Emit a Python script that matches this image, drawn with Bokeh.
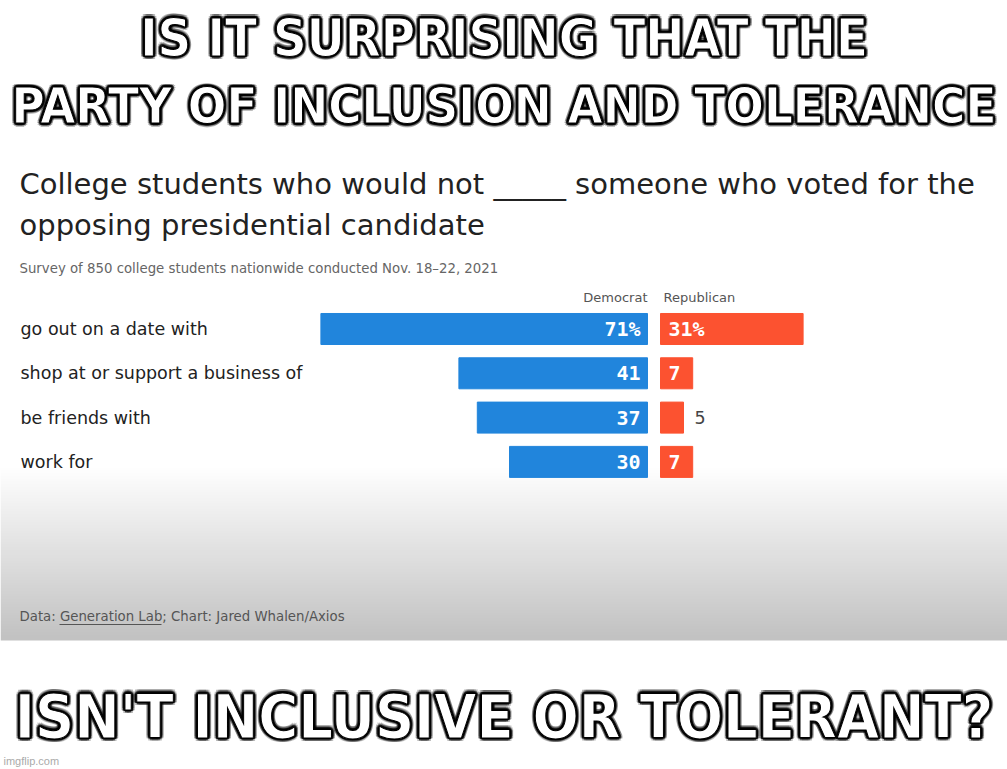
import numpy as np
from bokeh.plotting import figure
from bokeh.models import Range1d, ColumnDataSource
from bokeh.core.properties import value
from bokeh.embed import file_html
from bokeh.resources import INLINE

# ---- data ----
categories = ["go out on a date with", "shop at or support a business of",
              "be friends with", "work for"]
democrat = [71, 41, 37, 30]
republican = [31, 7, 5, 7]
dem_labels = ["71%", "41", "37", "30"]
rep_labels = ["31%", "7", "5", "7"]

W, H = 1007, 769
p = figure(width=W, height=H, x_range=Range1d(0, W), y_range=Range1d(H, 0),
           output_backend="svg", toolbar_location=None, min_border=0,
           background_fill_color="white", border_fill_color="white")
p.outline_line_color = None
p.axis.visible = False
p.grid.visible = False

# value scale (percent) and row scale
PX_PER_PCT = 4.6
ZERO_PX = 653.5
p.extra_x_ranges = {"pct": Range1d(-ZERO_PX / PX_PER_PCT, (W - ZERO_PX) / PX_PER_PCT)}
ROW0, ROWSTEP = 328.5, 44.3
p.extra_y_ranges = {"rows": Range1d((H - ROW0) / ROWSTEP, -ROW0 / ROWSTEP)}

# gradient background of the screenshot
g_top, g_bot = 465, 640
n = 64
shade = np.linspace(255, 194, n)
img = np.zeros((n, 1), dtype=np.uint32)
view = img.view(dtype=np.uint8).reshape((n, 1, 4))
view[:, 0, 0] = shade
view[:, 0, 1] = shade
view[:, 0, 2] = shade
view[:, 0, 3] = 255
p.image_rgba(image=[img], x=0, y=g_top, dw=W, dh=g_bot - g_top)

GAP = 6.5 / PX_PER_PCT
rows = list(range(len(categories)))
src = ColumnDataSource(dict(
    row=rows, cat=categories,
    dem=democrat, rep=republican,
    dem_left=[-GAP - v for v in democrat], dem_right=[-GAP] * len(rows),
    rep_left=[GAP] * len(rows), rep_right=[GAP + v for v in republican],
    dem_lab=dem_labels, rep_lab=rep_labels,
))

BLUE = "#2185dc"
RED = "#fc5230"
p.hbar(y="row", left="dem_left", right="dem_right", height=0.70, source=src,
       color=BLUE, x_range_name="pct", y_range_name="rows")
p.hbar(y="row", left="rep_left", right="rep_right", height=0.70, source=src,
       color=RED, x_range_name="pct", y_range_name="rows")

SANS = value("DejaVu Sans")
MONO = value("DejaVu Sans Mono")

# in-bar labels
p.text(x="dem_right", y="row", text="dem_lab", source=src, x_range_name="pct",
       y_range_name="rows", x_offset=-7, text_align="right", text_baseline="middle",
       text_color="white", text_font=MONO, text_font_size="20px", text_font_style="bold")
inside = [i for i, v in enumerate(republican) if v >= 7]
outside = [i for i, v in enumerate(republican) if v < 7]
src_in = ColumnDataSource(dict(x=[GAP] * len(inside), row=[rows[i] for i in inside],
                               lab=[rep_labels[i] for i in inside]))
src_out = ColumnDataSource(dict(x=[GAP + republican[i] for i in outside],
                                row=[rows[i] for i in outside],
                                lab=[rep_labels[i] for i in outside]))
p.text(x="x", y="row", text="lab", source=src_in, x_range_name="pct",
       y_range_name="rows", x_offset=8, text_align="left", text_baseline="middle",
       text_color="white", text_font=MONO, text_font_size="20px", text_font_style="bold")
p.text(x="x", y="row", text="lab", source=src_out, x_range_name="pct",
       y_range_name="rows", x_offset=11, text_align="left", text_baseline="middle",
       text_color="#444444", text_font=SANS, text_font_size="17.5px")

# category labels
p.text(x=20, y="row", text="cat", source=src, y_range_name="rows",
       text_align="left", text_baseline="middle", text_color="#222222",
       text_font=SANS, text_font_size="17.5px")

# column headers
p.text(x=[0], y=[-0.72], text=["Democrat"], x_range_name="pct", y_range_name="rows",
       x_offset=-(GAP * PX_PER_PCT), text_align="right", text_baseline="middle",
       text_color="#555555", text_font=SANS, text_font_size="13px")
p.text(x=[0], y=[-0.72], text=["Republican"], x_range_name="pct", y_range_name="rows",
       x_offset=GAP * PX_PER_PCT + 3, text_align="left", text_baseline="middle",
       text_color="#555555", text_font=SANS, text_font_size="13px")

# titles
p.text(x=[19, 19], y=[183, 224],
       text=["College students who would not _____ someone who voted for the",
             "opposing presidential candidate"],
       text_align="left", text_baseline="middle", text_color="#222222",
       text_font=SANS, text_font_size="29px")
p.text(x=[19], y=[268], text=["Survey of 850 college students nationwide conducted Nov. 18\u201322, 2021"],
       text_align="left", text_baseline="middle", text_color="#666666",
       text_font=SANS, text_font_size="13.3px")

# footer
p.text(x=[19], y=[616], text=["Data: Generation Lab; Chart: Jared Whalen/Axios"],
       text_align="left", text_baseline="middle", text_color="#555555",
       text_font=SANS, text_font_size="13.3px")
p.segment(x0=[59], y0=[624], x1=[161], y1=[624], line_color="#555555", line_width=1)

# meme captions with a soft black glow
meme_font = value("DejaVu Sans Condensed")
captions = ["IS IT SURPRISING THAT THE", "PARTY OF INCLUSION AND TOLERANCE",
            "ISN'T INCLUSIVE OR TOLERANT?"]
cap_y = [37, 105, 716]
cap_size = ["52px", "50.5px", "60.5px"]
ang = np.linspace(0, 2 * np.pi, 12, endpoint=False)
for txt, y, size in zip(captions, cap_y, cap_size):
    for rad, alpha in [(3.5, 0.25), (2.0, 0.6)]:
        glow = ColumnDataSource(dict(
            x=[W / 2] * len(ang), y=[y] * len(ang), t=[txt] * len(ang),
            dx=list(rad * np.cos(ang)), dy=list(rad * np.sin(ang))))
        p.text(x="x", y="y", text="t", source=glow, x_offset="dx", y_offset="dy",
               text_align="center", text_baseline="middle", text_color="black",
               text_alpha=alpha, text_font=meme_font, text_font_size=size,
               text_font_style="bold")
    p.text(x=[W / 2], y=[y], text=[txt], text_align="center", text_baseline="middle",
           text_color="white", text_outline_color="black", text_font=meme_font,
           text_font_size=size, text_font_style="bold")

p.text(x=[3], y=[760], text=["imgflip.com"], text_align="left", text_baseline="middle",
       text_color="#aaaaaa", text_font=value("Liberation Sans"), text_font_size="11px")

open("out.html", "w").write(file_html(p, INLINE))
